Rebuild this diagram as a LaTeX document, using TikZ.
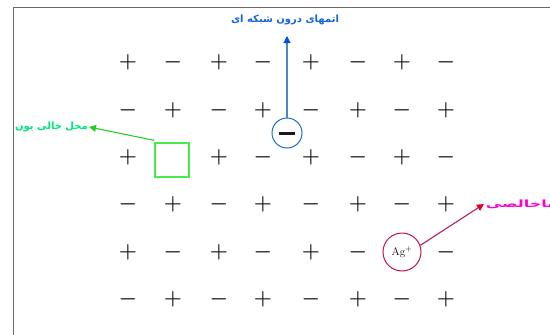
\documentclass[tikz,border=0pt]{standalone}
\usepackage{fontspec}
\newfontfamily\arabicfont[Script=Arabic]{DejaVu Sans}
\TeXXeTstate=1
\usetikzlibrary{arrows.meta}
\definecolor{framegray}{RGB}{105,105,105}
\definecolor{signcol}{RGB}{25,25,25}
\definecolor{intblue}{RGB}{25,110,200}
\definecolor{intline}{RGB}{70,140,190}
\definecolor{inttip}{RGB}{0,80,225}
\definecolor{inttext}{RGB}{20,100,220}
\definecolor{vacgreen}{RGB}{70,235,70}
\definecolor{vacline}{RGB}{40,205,40}
\definecolor{vactext}{RGB}{0,230,120}
\definecolor{agred}{RGB}{190,20,80}
\definecolor{agline}{RGB}{180,30,100}
\definecolor{agtip}{RGB}{225,0,40}
\definecolor{agtext}{RGB}{255,0,210}
\tikzset{
  sign/.style={inner sep=0pt, text=signcol, font=\fontsize{20}{20}\selectfont\boldmath},
  arlabel/.style={inner sep=1pt, font=\arabicfont\bfseries\fontsize{10}{12}\selectfont},
  callout/.style={line width=1.1pt},
}
\begin{document}
\begin{tikzpicture}[x=1pt,y=-1pt]
\useasboundingbox (0,0) rectangle (550,335);
\clip (0,0) rectangle (550,335);
\draw[framegray, line width=1.5pt] (13.5,336) -- (13.5,7.5) -- (551,7.5);
% lattice
\foreach \x [count=\c] in {128,173,219,263,311,358,402,446} {
  \foreach \y [count=\r] in {62,110,157,204,252,299} {
    \pgfmathtruncatemacro\skipit{((\r==3)&&(\c==2))||((\r==5)&&(\c==7))}
    \pgfmathtruncatemacro\parity{mod(\c+\r,2)}
    \ifnum\skipit=0
      \node[sign] (g-\r-\c) at (\x,\y) {\ifnum\parity=0 $+$\else $-$\fi};
    \fi
  }
}
% interstitial
\node[circle, draw=intblue, line width=1pt, minimum size=30pt, inner sep=0pt] (inter) at (287,133) {};
\draw[signcol, line width=3pt] ([xshift=-8pt]inter.center) -- ([xshift=8pt]inter.center);
\node[arlabel, text=inttext] (lblint) at (285,20) {\beginR اتمهای درون شبکه ای\endR};
\coordinate (inttipc) at (287,36);
\draw[callout, intline, -{Triangle[length=7pt,width=7pt,color=inttip]}] (inter.north) -- (inttipc);
% vacancy
\node[draw=vacgreen, line width=1.2pt, minimum size=34pt, inner sep=0pt] (vac) at (172,160) {};
\node[arlabel, text=vactext, anchor=east] (lblvac) at (89,127) {\beginR محل خالی یون\endR};
\draw[callout, vacline, -{Triangle[length=7pt,width=7pt,color=vacline]}] ([yshift=2pt]vac.north west) -- (lblvac.east);
% impurity
\node[circle, draw=agred, line width=1pt, minimum size=38pt, inner sep=0pt, font=\fontsize{11}{11}\selectfont] (ag) at (402,252) {Ag$^+$};
\node[arlabel, text=agtext, anchor=west, xscale=1.6] (lblag) at (484,204) {\beginR ناخالصی\endR};
\draw[callout, agline, -{Triangle[length=7pt,width=7pt,color=agtip]}] (ag.20) -- (lblag.west);
\end{tikzpicture}
\end{document}
